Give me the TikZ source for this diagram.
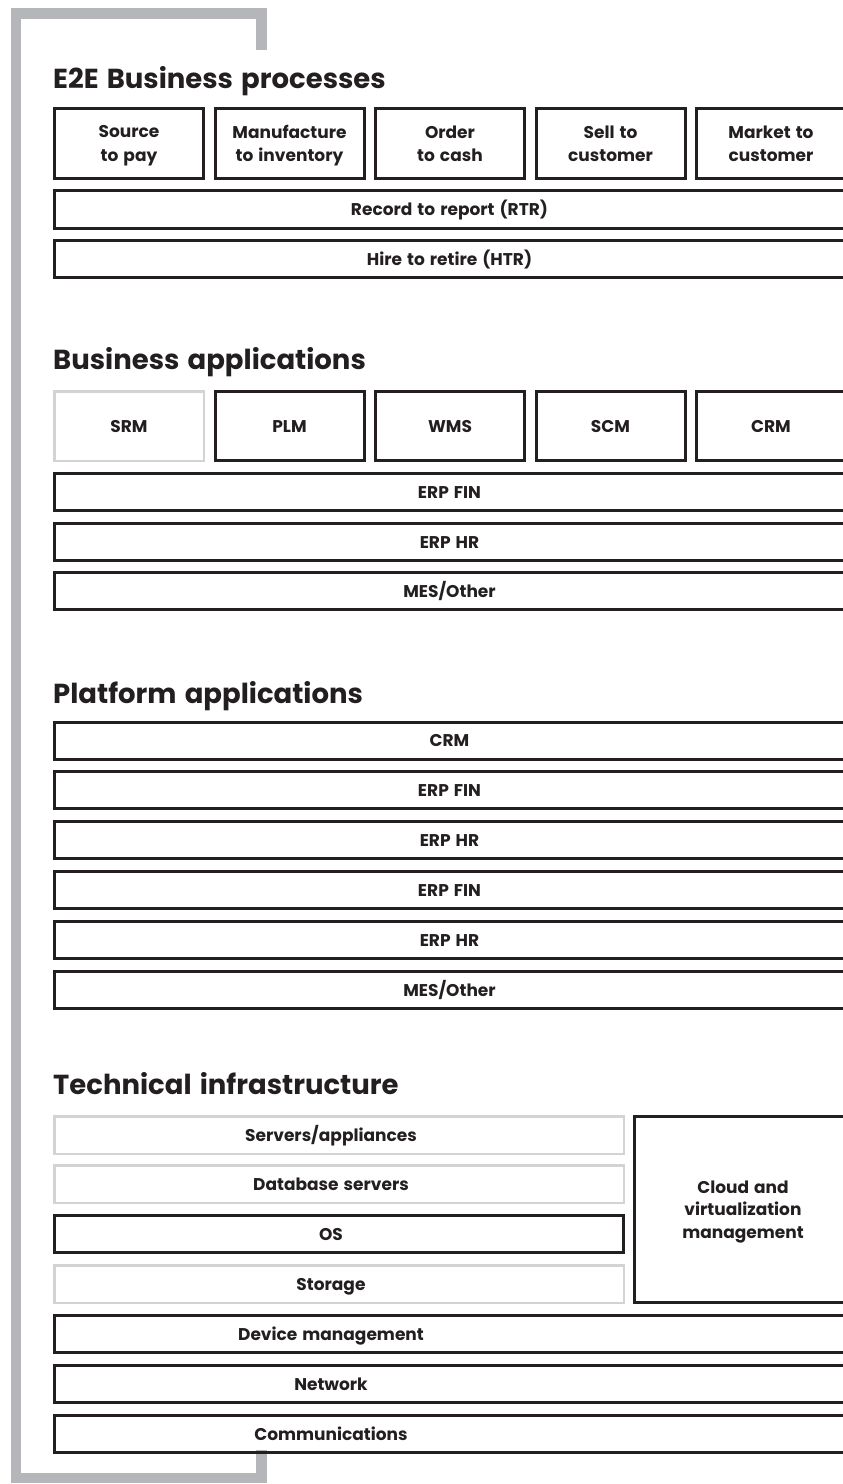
\documentclass[tikz,border=0pt]{standalone}
\usepackage{fontspec}
\setmainfont{Poppins}[WordSpace=1.4]
\definecolor{ink}{HTML}{231F20}
\definecolor{frame}{HTML}{B5B6BA}
\definecolor{lite}{HTML}{D3D3D3}
\tikzset{
  mbox/.style={draw=ink, line width=3pt, inner sep=0pt, align=center, text=ink, text depth=0pt,
    font=\fontsize{17}{23.5}\selectfont\bfseries},
  dbox/.style={mbox, text height=12pt},
  lbox/.style={dbox, draw=lite, line width=2.5pt},
  txt/.style={inner sep=0pt, align=center, text=ink, text height=12pt, text depth=0pt, font=\fontsize{17}{23}\selectfont\bfseries},
  head/.style={anchor=base west, inner sep=0pt, text=ink, font=\fontsize{27.5}{32}\selectfont\bfseries},
}
\begin{document}
\begin{tikzpicture}[x=1pt,y=-1pt]
\useasboundingbox (0,0) rectangle (843,1484);
\clip (0,0) rectangle (843,1484);
% frame
\draw[frame, line width=10.5pt] (261.5,50) -- (261.5,13.25) -- (16,13.25) -- (16,1478) -- (261.5,1478) -- (261.5,1450);

% E2E
\node[head] (h1) at (53,88.5) {E2E Business processes};
\foreach \i/\t/\n in {0/{Source\\to pay}/s2p, 1/{Manufacture\\to inventory}/m2i, 2/{Order\\to cash}/o2c, 3/{Sell to\\customer}/s2c, 4/{Market to\\customer}/m2c}
  \node[mbox, minimum width=149pt, minimum height=70pt] (\n) at (129+160.5*\i,143.5) {\t};
\node[dbox, minimum width=790pt, minimum height=38pt] (rtr) at (449.5,209.5) {Record to report (RTR)};
\node[dbox, minimum width=790pt, minimum height=37pt] (htr) at (449.5,259) {Hire to retire (HTR)};

% Business applications
\node[head] (h2) at (53,369.5) {Business applications};
\node[lbox, minimum width=149.5pt, minimum height=69.5pt] (srm) at (129,426) {SRM};
\foreach \i/\t in {1/PLM, 2/WMS, 3/SCM, 4/CRM}
  \node[dbox, minimum width=149pt, minimum height=69pt] (ba\t) at (129+160.5*\i,426) {\t};
\node[dbox, minimum width=790pt, minimum height=37pt] (bfin) at (449.5,492) {ERP FIN};
\node[dbox, minimum width=790pt, minimum height=37pt] (bhr) at (449.5,542) {ERP HR};
\node[dbox, minimum width=790pt, minimum height=37pt] (bmes) at (449.5,591) {MES/Other};

% Platform applications
\node[head] (h3) at (53,703) {Platform applications};
\foreach \i/\t/\n in {0/{CRM}/pcrm, 1/{ERP FIN}/pfin1, 2/{ERP HR}/phr1, 3/{ERP FIN}/pfin2, 4/{ERP HR}/phr2, 5/{MES/Other}/pmes}
  \node[dbox, minimum width=790pt, minimum height=37pt] (\n) at (449.5,740.5+49.9*\i) {\t};

% Technical infrastructure
\node[head] (h4) at (53,1094) {Technical infrastructure};
\node[lbox, minimum width=569.5pt, minimum height=37.5pt] (srv) at (339,1135) {};
\node[lbox, minimum width=569.5pt, minimum height=37.5pt] (db) at (339,1184) {};
\node[dbox, minimum width=569pt, minimum height=37pt] (os) at (339,1234) {};
\node[lbox, minimum width=569.5pt, minimum height=37.5pt] (sto) at (339,1284) {};
\node[mbox, minimum width=217pt, minimum height=186pt, font=\fontsize{17}{22.5}\selectfont\bfseries] (cloud) at (743,1209.5) {Cloud and\\virtualization\\management};
\node[dbox, minimum width=790pt, minimum height=37pt] (dev) at (449.5,1334) {};
\node[dbox, minimum width=790pt, minimum height=37pt] (net) at (449.5,1384) {};
\node[dbox, minimum width=790pt, minimum height=37pt] (com) at (449.5,1434) {};
\node[txt] (tsrv) at (331,1135) {Servers/appliances};
\node[txt] (tdb) at (331,1184) {Database servers};
\node[txt] (tos) at (331,1234) {OS};
\node[txt] (tsto) at (331,1284) {Storage};
\node[txt] (tdev) at (331,1334) {Device management};
\node[txt] (tnet) at (331,1384) {Network};
\node[txt] (tcom) at (331,1434) {Communications};
\end{tikzpicture}
\end{document}
